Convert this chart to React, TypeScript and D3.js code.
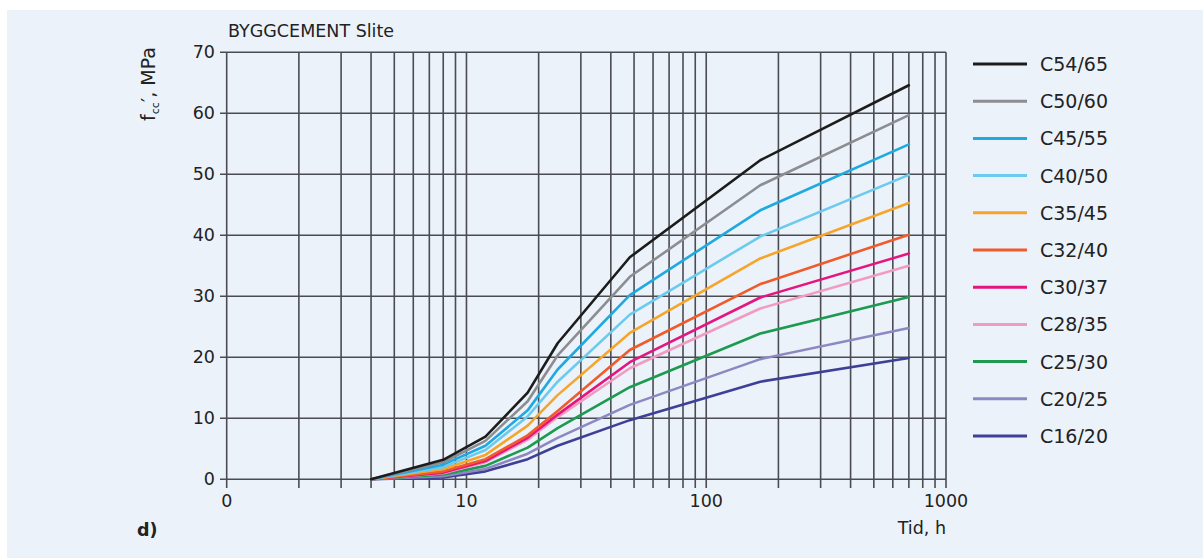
import React from "react";
import * as d3 from "d3";

// Age in hours at which strength was read
const hours = [4, 8, 12, 18, 24, 48, 168, 700];

// Compressive strength f_cc' (MPa) per concrete class
const c54_65 = [0, 3.2, 7.0, 14.2, 22.3, 36.4, 52.3, 64.6];
const c50_60 = [0, 2.8, 6.3, 12.8, 20.3, 33.2, 48.2, 59.7];
const c45_55 = [0, 2.4, 5.5, 11.3, 18.0, 30.2, 44.1, 54.9];
const c40_50 = [0, 2.0, 4.8, 10.3, 16.0, 27.0, 39.8, 49.9];
const c35_45 = [0, 1.7, 4.0, 8.8, 13.8, 24.0, 36.2, 45.3];
const c32_40 = [0, 1.3, 3.3, 7.2, 11.2, 21.2, 32.0, 40.1];
const c30_37 = [0, 1.1, 3.0, 6.8, 10.6, 19.2, 29.8, 37.0];
const c28_35 = [0, 1.0, 2.8, 6.5, 10.2, 18.2, 28.0, 35.0];
const c25_30 = [0, 0.8, 2.2, 5.2, 8.4, 15.1, 23.9, 29.9];
const c20_25 = [0, 0.5, 1.7, 4.2, 6.8, 12.2, 19.7, 24.8];
const c16_20 = [0, 0.3, 1.3, 3.3, 5.5, 9.7, 16.0, 19.9];

const classNames = ["C54/65", "C50/60", "C45/55", "C40/50", "C35/45", "C32/40", "C30/37", "C28/35", "C25/30", "C20/25", "C16/20"];
const classValues = [c54_65, c50_60, c45_55, c40_50, c35_45, c32_40, c30_37, c28_35, c25_30, c20_25, c16_20];
const classColors = ["#1c1c1c", "#8c8d91", "#1ea9e1", "#6ccaee", "#f6a52a", "#ef5b2b", "#e5157f", "#f29bc1", "#1c9b50", "#8e88c2", "#3e3f96"];

const yTicks = [0, 10, 20, 30, 40, 50, 60, 70];
const xTickLabels = [
  { v: 1, t: "0" },
  { v: 10, t: "10" },
  { v: 100, t: "100" },
  { v: 1000, t: "1000" },
];

const W = 1203;
const H = 558;
const FONT = "'DejaVu Sans', sans-serif";
const TXT = "#222222";

export default function App() {
  const x = d3.scaleLog().domain([1, 1000]).range([226.7, 946]);
  const y = d3.scaleLinear().domain([0, 70]).range([479.3, 52.3]);

  // minor log grid: 1..9, 10..90, 100..900, 1000
  const gridX: number[] = [];
  for (const dec of [1, 10, 100]) for (let k = 1; k <= 9; k++) gridX.push(k * dec);
  gridX.push(1000);

  const line = d3
    .line<number>()
    .x((_, i) => x(hours[i]))
    .y((v) => y(v));

  const gridColor = "#4a4c52";
  const legendX0 = 973;
  const legendX1 = 1027;
  const legendY0 = 64;
  const legendStep = 37.2;

  return (
    <div style={{ position: "absolute", left: 0, top: 0 }}>
      <svg width={W} height={H} style={{ display: "block" }} fontFamily={FONT}>
        <rect x={0} y={0} width={W} height={H} fill="#ffffff" />
        <rect x={7} y={10} width={W - 7} height={H - 10} fill="#ecf2fa" />

        {/* horizontal grid */}
        {yTicks.map((t) => (
          <line key={"h" + t} x1={220} x2={946} y1={y(t)} y2={y(t)} stroke={gridColor} strokeWidth={1.6} />
        ))}
        {/* vertical log grid */}
        {gridX.map((g) => (
          <line key={"v" + g} x1={x(g)} x2={x(g)} y1={y(70)} y2={488} stroke={gridColor} strokeWidth={1.6} />
        ))}

        {/* y tick labels */}
        {yTicks.map((t) => (
          <text key={"yl" + t} x={215} y={y(t)} textAnchor="end" dominantBaseline="central" fontSize={17.5} fill={TXT}>
            {t}
          </text>
        ))}
        {/* x tick labels */}
        {xTickLabels.map((d) => (
          <text key={"xl" + d.v} x={x(d.v)} y={501} textAnchor="middle" dominantBaseline="central" fontSize={17.5} fill={TXT}>
            {d.t}
          </text>
        ))}

        {/* strength curves, weakest drawn first */}
        {classValues
          .map((vals, i) => ({ vals, i }))
          .reverse()
          .map(({ vals, i }) => (
            <path
              key={"c" + i}
              d={line(vals) || ""}
              fill="none"
              stroke={classColors[i]}
              strokeWidth={2.6}
              strokeLinejoin="round"
              strokeLinecap="round"
            />
          ))}

        {/* titles */}
        <text x={228} y={37} fontSize={17.5} fill={TXT}>
          BYGGCEMENT Slite
        </text>
        <text x={946} y={528} textAnchor="end" dominantBaseline="central" fontSize={17.5} fill={TXT}>
          Tid, h
        </text>
        <text x={137} y={530} dominantBaseline="central" fontSize={17.5} fontWeight="bold" fill={TXT}>
          d)
        </text>
        <text
          transform="translate(155,84) rotate(-90)"
          textAnchor="middle"
          fontSize={19}
          fill={TXT}
        >
          <tspan>f</tspan>
          <tspan fontSize={11} dy={4}>cc</tspan>
          <tspan dy={-4}>′, MPa</tspan>
        </text>

        {/* legend */}
        {classNames.map((name, i) => {
          const ly = legendY0 + i * legendStep;
          return (
            <g key={"lg" + i}>
              <line x1={legendX0} x2={legendX1} y1={ly} y2={ly} stroke={classColors[i]} strokeWidth={3} />
              <text x={1040} y={ly} dominantBaseline="central" fontSize={19} fill={TXT}>
                {name}
              </text>
            </g>
          );
        })}
      </svg>
    </div>
  );
}
